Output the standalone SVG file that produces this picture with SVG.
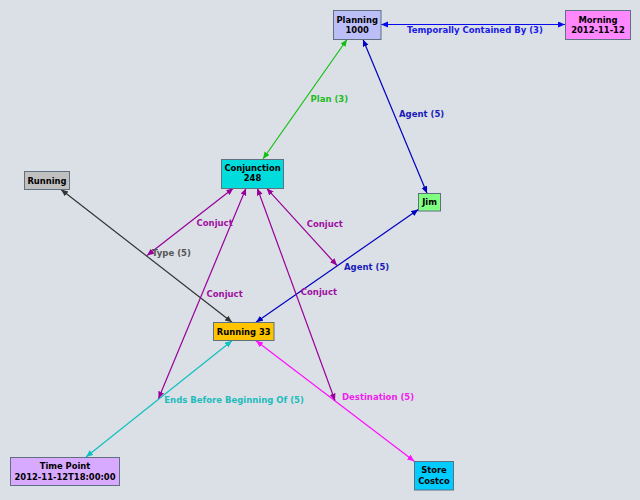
<svg xmlns="http://www.w3.org/2000/svg" width="640" height="500" viewBox="0 0 640 500">
<style>
.bg{fill:#dbe0e7}
.box{stroke:#5f7080;stroke-width:1}
.nt{font-family:"DejaVu Sans",sans-serif;font-weight:bold;font-size:8.4px;fill:#000;text-anchor:middle}
.el{font-family:"DejaVu Sans",sans-serif;font-weight:bold;font-size:8.5px}
.e{fill:none;stroke-width:1.2}
</style>
<defs>
<marker id="mBlue" markerUnits="userSpaceOnUse" markerWidth="8" markerHeight="7" refX="7" refY="3" orient="auto-start-reverse"><path d="M0,0 L7,3 L0,6 z" fill="#0a0aee"/></marker>
<marker id="mDBlue" markerUnits="userSpaceOnUse" markerWidth="8" markerHeight="7" refX="7" refY="3" orient="auto-start-reverse"><path d="M0,0 L7,3 L0,6 z" fill="#0000c0"/></marker>
<marker id="mGreen" markerUnits="userSpaceOnUse" markerWidth="8" markerHeight="7" refX="7" refY="3" orient="auto-start-reverse"><path d="M0,0 L7,3 L0,6 z" fill="#10c010"/></marker>
<marker id="mPurple" markerUnits="userSpaceOnUse" markerWidth="8" markerHeight="7" refX="7" refY="3" orient="auto-start-reverse"><path d="M0,0 L7,3 L0,6 z" fill="#990099"/></marker>
<marker id="mGray" markerUnits="userSpaceOnUse" markerWidth="8" markerHeight="7" refX="7" refY="3" orient="auto-start-reverse"><path d="M0,0 L7,3 L0,6 z" fill="#333333"/></marker>
<marker id="mCyan" markerUnits="userSpaceOnUse" markerWidth="8" markerHeight="7" refX="7" refY="3" orient="auto-start-reverse"><path d="M0,0 L7,3 L0,6 z" fill="#10c0c0"/></marker>
<marker id="mMag" markerUnits="userSpaceOnUse" markerWidth="8" markerHeight="7" refX="7" refY="3" orient="auto-start-reverse"><path d="M0,0 L7,3 L0,6 z" fill="#ff10ff"/></marker>
</defs>
<rect class="bg" x="0" y="0" width="640" height="500"/>
<g id="connectors">
<line class="e" x1="381" y1="24.5" x2="565" y2="24.5" stroke="#0a0aee" marker-start="url(#mBlue)" marker-end="url(#mBlue)"/>
<line class="e" x1="347" y1="39.5" x2="263" y2="159" stroke="#10c010" marker-start="url(#mGreen)" marker-end="url(#mGreen)"/>
<line class="e" x1="363" y1="39.5" x2="427" y2="193.3" stroke="#0000c0" marker-start="url(#mDBlue)" marker-end="url(#mDBlue)"/>
<line class="e" x1="61" y1="189.5" x2="232" y2="322.3" stroke="#333333" marker-start="url(#mGray)" marker-end="url(#mGray)"/>
<line class="e" x1="256" y1="322.3" x2="418.3" y2="209.5" stroke="#0000c0" marker-start="url(#mDBlue)" marker-end="url(#mDBlue)"/>
<line class="e" x1="232" y1="340.7" x2="86" y2="457" stroke="#10c0c0" marker-start="url(#mCyan)" marker-end="url(#mCyan)"/>
<line class="e" x1="256" y1="340.7" x2="414.3" y2="461.3" stroke="#ff10ff" marker-start="url(#mMag)" marker-end="url(#mMag)"/>
<line class="e" x1="233.3" y1="188.3" x2="147" y2="255.5" stroke="#990099" marker-start="url(#mPurple)" marker-end="url(#mPurple)"/>
<line class="e" x1="246" y1="188.3" x2="158.5" y2="398.5" stroke="#990099" marker-start="url(#mPurple)" marker-end="url(#mPurple)"/>
<line class="e" x1="257.3" y1="188.3" x2="335" y2="400.5" stroke="#990099" marker-start="url(#mPurple)" marker-end="url(#mPurple)"/>
<line class="e" x1="266.7" y1="188.3" x2="337" y2="265.5" stroke="#990099" marker-start="url(#mPurple)" marker-end="url(#mPurple)"/>
<text class="el" x="407" y="33" fill="#1a1ae8">Temporally Contained By (3)</text>
<text class="el" x="310.5" y="102.4" fill="#22bb22">Plan (3)</text>
<text class="el" x="399" y="117.4" fill="#1a1ab8">Agent (5)</text>
<text class="el" x="152" y="255.8" fill="#555555">Type (5)</text>
<text class="el" x="344" y="270.4" fill="#1a1ab8">Agent (5)</text>
<text class="el" x="164.3" y="403.4" fill="#22bbbb">Ends Before Beginning Of (5)</text>
<text class="el" x="342" y="399.8" fill="#ee22ee">Destination (5)</text>
<text class="el" x="196.5" y="226.4" fill="#a010a0">Conjuct</text>
<text class="el" x="306.7" y="227.1" fill="#a010a0">Conjuct</text>
<text class="el" x="206.5" y="297.1" fill="#a010a0">Conjuct</text>
<text class="el" x="300.8" y="295.1" fill="#a010a0">Conjuct</text>
</g>
<g id="planning"><rect class="box" x="333.5" y="10.5" width="47.5" height="29" fill="#bcbef8"/><text class="nt" x="357.2" y="22.5">Planning</text><text class="nt" x="357.2" y="32.5">1000</text></g>
<g id="morning"><rect class="box" x="565.5" y="10.5" width="65" height="29" fill="#ff88ff"/><text class="nt" x="598" y="22.5">Morning</text><text class="nt" x="598" y="32.5">2012-11-12</text></g>
<g id="conjunction"><rect class="box" x="221.5" y="159.5" width="62" height="29" fill="#00dcdc"/><text class="nt" x="252.5" y="170.8">Conjunction</text><text class="nt" x="252.5" y="181.4">248</text></g>
<g id="running"><rect class="box" x="24.5" y="171.5" width="45" height="18" fill="#c0c0c0"/><text class="nt" x="47" y="183.5">Running</text></g>
<g id="jim"><rect class="box" x="418.5" y="193.5" width="22" height="17.5" fill="#80ff80"/><text class="nt" x="429.5" y="205.3">Jim</text></g>
<g id="running33"><rect class="box" x="213.5" y="322.5" width="60.5" height="18" fill="#ffc400"/><text class="nt" x="243.7" y="334.6">Running 33</text></g>
<g id="timepoint"><rect class="box" x="10.5" y="457.5" width="109" height="28" fill="#d8aaff"/><text class="nt" x="65" y="468.8">Time Point</text><text class="nt" x="65" y="479.6">2012-11-12T18:00:00</text></g>
<g id="store"><rect class="box" x="414.5" y="461.5" width="39" height="28.5" fill="#00ccff"/><text class="nt" x="434" y="473">Store</text><text class="nt" x="434" y="484.4">Costco</text></g>
</svg>
